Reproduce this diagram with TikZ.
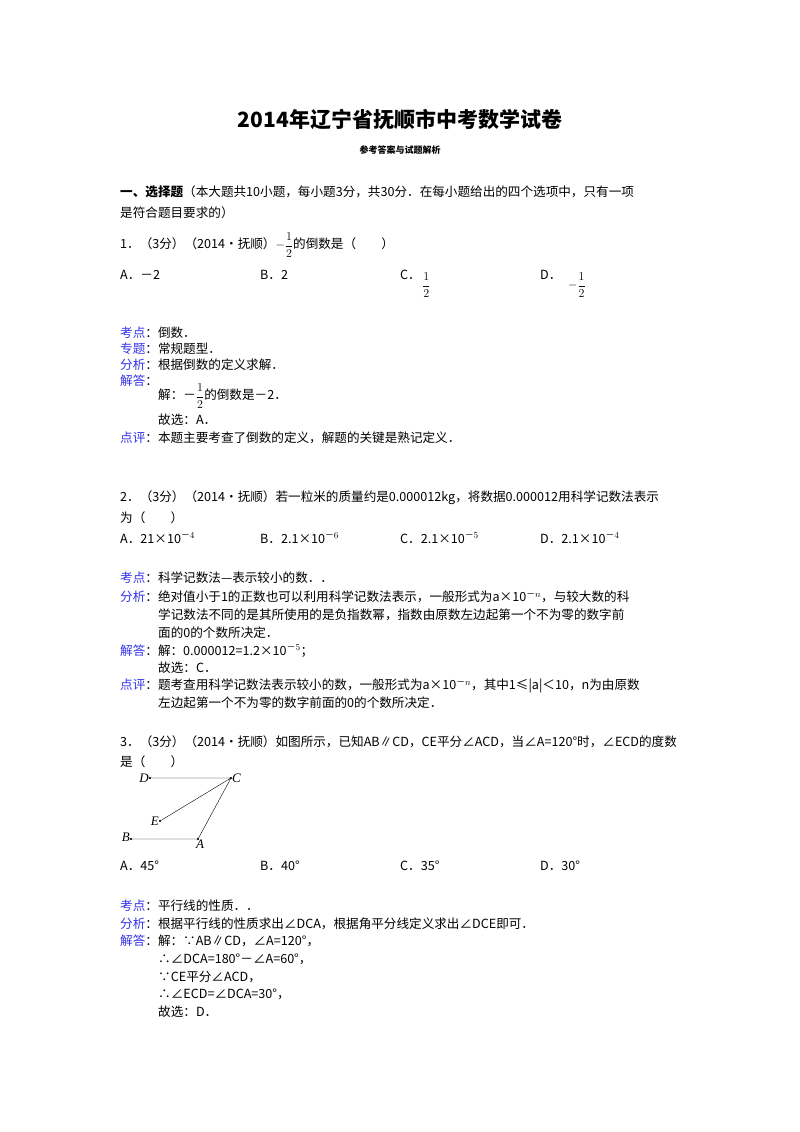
\documentclass[tikz,border=0pt]{standalone}
\usepackage{amsmath}
\usepackage{fontspec}
\setmainfont{Noto Sans CJK SC}
\newfontfamily\figfont{Liberation Serif}
\definecolor{kpblue}{RGB}{50,50,235}
\newcommand{\kp}[1]{\textcolor{kpblue}{#1}：}
\begin{document}
\begin{tikzpicture}[x=1pt, y=-1pt, txt/.style = {anchor=west, inner sep=0pt, font=\fontsize{12.6}{15}\selectfont},
  dot/.style = {draw, fill = black, circle, inner sep=0.6pt}, lbl/.style = {font=\figfont\itshape\fontsize{13}{15}\selectfont, inner sep=1pt}]
\useasboundingbox (0,0) rectangle (800,1132);
\node[font=\bfseries\fontsize{21}{24}\selectfont] (title) at (400,120) {2014年辽宁省抚顺市中考数学试卷};
\node[font=\bfseries\fontsize{9}{10}\selectfont] (sub) at (400,150) {参考答案与试题解析};
% question 1
\node[txt] (s1) at (120,192) {\textbf{一、选择题}（本大题共10小题，每小题3分，共30分．在每小题给出的四个选项中，只有一项};
\node[txt] (s2) at (120,213) {是符合题目要求的）};
\node[txt] (q1) at (120,245) {1．（3分）（2014•抚顺）$-\dfrac{1}{2}$的倒数是（\quad\quad）};
\node[txt] (q1a) at (120,275) {A．－2};
\node[txt] (q1b) at (260,275) {B．2};
\node[txt] (q1c) at (400,275) {C．};
\node[txt] (q1cf) at (422,285) {$\dfrac{1}{2}$};
\node[txt] (q1d) at (540,275) {D．};
\node[txt] (q1df) at (568,285) {$-\dfrac{1}{2}$};
\node[txt] (k1) at (120,333) {\kp{考点}倒数．};
\node[txt] (z1) at (120,349) {\kp{专题}常规题型．};
\node[txt] (f1) at (120,365) {\kp{分析}根据倒数的定义求解．};
\node[txt] (j1) at (120,381) {\kp{解答}};
\node[txt] (j1b) at (158,396) {解：－$\dfrac{1}{2}$的倒数是－2．};
\node[txt] (j1c) at (158,420) {故选：A．};
\node[txt] (d1) at (120,438) {\kp{点评}本题主要考查了倒数的定义，解题的关键是熟记定义．};
% question 2
\node[txt] (q2) at (120,498) {2．（3分）（2014•抚顺）若一粒米的质量约是0.000012kg，将数据0.000012用科学记数法表示};
\node[txt] (q2b) at (120,518) {为（\quad\quad）};
\node[txt] (q2oa) at (120,538) {A．21×10$^{－4}$};
\node[txt] (q2ob) at (260,538) {B．2.1×10$^{－6}$};
\node[txt] (q2oc) at (400,538) {C．2.1×10$^{－5}$};
\node[txt] (q2od) at (540,538) {D．2.1×10$^{－4}$};
\node[txt] (k2) at (120,578) {\kp{考点}科学记数法—表示较小的数．．};
\node[txt] (f2) at (120,597) {\kp{分析}绝对值小于1的正数也可以利用科学记数法表示，一般形式为a×10$^{－n}$，与较大数的科};
\node[txt] (f2b) at (158,615) {学记数法不同的是其所使用的是负指数幂，指数由原数左边起第一个不为零的数字前};
\node[txt] (f2c) at (158,633) {面的0的个数所决定．};
\node[txt] (j2) at (120,651) {\kp{解答}解：0.000012=1.2×10$^{－5}$；};
\node[txt] (j2b) at (158,668) {故选：C．};
\node[txt] (d2) at (120,686) {\kp{点评}题考查用科学记数法表示较小的数，一般形式为a×10$^{－n}$，其中1≤|a|＜10，n为由原数};
\node[txt] (d2b) at (158,703) {左边起第一个不为零的数字前面的0的个数所决定．};
% question 3
\node[txt] (q3) at (120,742) {3．（3分）（2014•抚顺）如图所示，已知AB∥CD，CE平分∠ACD，当∠A=120°时，∠ECD的度数};
\node[txt] (q3b) at (120,762) {是（\quad\quad）};
\coordinate[dot] (D) at (150,778);
\coordinate[dot] (C) at (231,778);
\coordinate[dot] (E) at (160,821);
\coordinate[dot] (B) at (131,839);
\coordinate[dot] (A) at (198,839);
\node[lbl, left] (lD) at (D) {D};
\node[lbl, right] (lC) at (C) {C};
\node[lbl, left] (lE) at (E) {E};
\node[lbl, left] (lB) at ([yshift=2]B) {B};
\node[lbl, below right] (lA) at ([xshift=-3]A) {A};
\draw (D) -- (C) (C) -- (E) (C) -- (A) (B) -- (A);
\node[txt] (q3oa) at (120,866) {A．45°};
\node[txt] (q3ob) at (260,866) {B．40°};
\node[txt] (q3oc) at (400,866) {C．35°};
\node[txt] (q3od) at (540,866) {D．30°};
\node[txt] (k3) at (120,906) {\kp{考点}平行线的性质．．};
\node[txt] (f3) at (120,924) {\kp{分析}根据平行线的性质求出∠DCA，根据角平分线定义求出∠DCE即可．};
\node[txt] (j3) at (120,941) {\kp{解答}解：∵AB∥CD，∠A=120°，};
\node[txt] (j3b) at (158,959) {∴∠DCA=180°－∠A=60°，};
\node[txt] (j3c) at (158,977) {∵CE平分∠ACD，};
\node[txt] (j3d) at (158,994) {∴∠ECD=∠DCA=30°，};
\node[txt] (j3e) at (158,1012) {故选：D．};
\end{tikzpicture}
\end{document}
